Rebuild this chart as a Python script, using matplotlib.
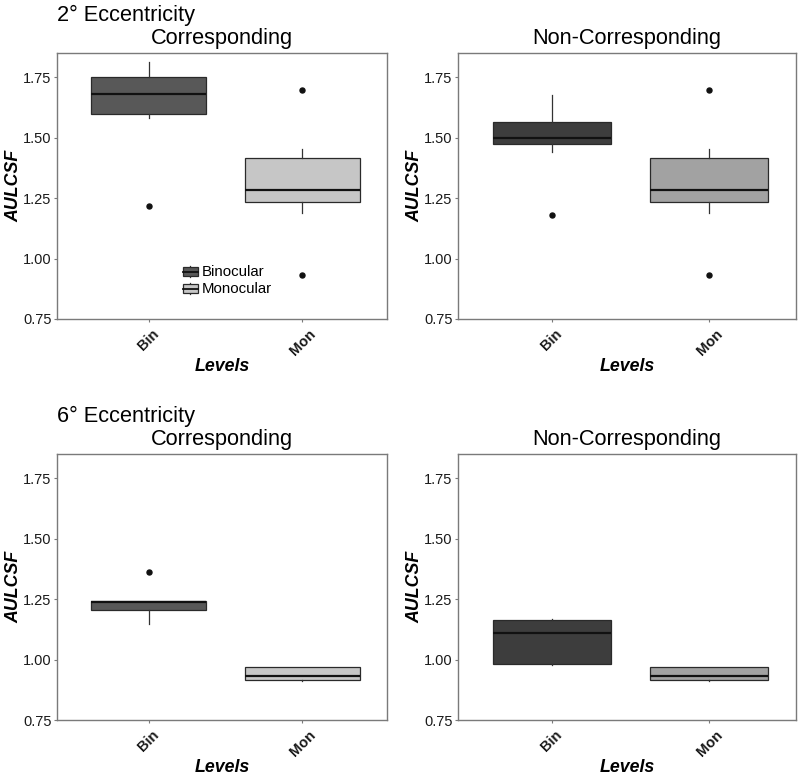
import matplotlib
matplotlib.use("Agg")
import matplotlib.pyplot as plt
from matplotlib.patches import Rectangle
from matplotlib.lines import Line2D
from matplotlib.legend_handler import HandlerBase

plt.rcParams['font.family'] = ['Liberation Sans', 'DejaVu Sans']

# ---------------- data ----------------
levels = ["Bin", "Mon"]
legend_labels = ["Binocular", "Monocular"]
ecc_titles = ["2° Eccentricity", "6° Eccentricity"]
panel_titles = ["Corresponding", "Non-Corresponding"]
yticks = [0.75, 1.00, 1.25, 1.50, 1.75]

# 2° Corresponding
e2c_whislo = [1.583, 1.189]
e2c_q1 = [1.599, 1.233]
e2c_med = [1.681, 1.282]
e2c_q3 = [1.750, 1.417]
e2c_whishi = [1.812, 1.454]
e2c_fliers = [[1.218], [1.699, 0.930]]

# 2° Non-Corresponding
e2n_whislo = [1.439, 1.189]
e2n_q1 = [1.475, 1.233]
e2n_med = [1.498, 1.282]
e2n_q3 = [1.564, 1.417]
e2n_whishi = [1.677, 1.454]
e2n_fliers = [[1.182], [1.699, 0.930]]

# 6° Corresponding
e6c_whislo = [1.145, 0.913]
e6c_q1 = [1.203, 0.917]
e6c_med = [1.238, 0.933]
e6c_q3 = [1.243, 0.969]
e6c_whishi = [1.243, 0.969]
e6c_fliers = [[1.363], []]

# 6° Non-Corresponding
e6n_whislo = [0.976, 0.913]
e6n_q1 = [0.981, 0.917]
e6n_med = [1.108, 0.933]
e6n_q3 = [1.163, 0.969]
e6n_whishi = [1.166, 0.969]
e6n_fliers = [[], []]

corr_colors = ["#585858", "#c6c6c6"]
noncorr_colors = ["#3d3d3d", "#a2a2a2"]

# ---------------- figure ----------------
W, H = 800, 776
fig = plt.figure(figsize=(W / 100, H / 100), dpi=100)


def px_axes(x0, y0, x1, y1):
    return fig.add_axes([x0 / W, 1 - y1 / H, (x1 - x0) / W, (y1 - y0) / H])


axes_px = [
    (57, 53, 387, 319),
    (458, 53, 796, 319),
    (57, 454, 387, 720),
    (458, 454, 796, 720),
]

panel_data = [
    (e2c_whislo, e2c_q1, e2c_med, e2c_q3, e2c_whishi, e2c_fliers, corr_colors, panel_titles[0]),
    (e2n_whislo, e2n_q1, e2n_med, e2n_q3, e2n_whishi, e2n_fliers, noncorr_colors, panel_titles[1]),
    (e6c_whislo, e6c_q1, e6c_med, e6c_q3, e6c_whishi, e6c_fliers, corr_colors, panel_titles[0]),
    (e6n_whislo, e6n_q1, e6n_med, e6n_q3, e6n_whishi, e6n_fliers, noncorr_colors, panel_titles[1]),
]

edge_col = "#2a2a2a"
axes_list = []
for (rect, (wlo, q1, med, q3, whi, fl, cols, title)) in zip(axes_px, panel_data):
    ax = px_axes(*rect)
    axes_list.append(ax)
    stats = []
    for i in range(len(levels)):
        stats.append(dict(whislo=wlo[i], q1=q1[i], med=med[i], q3=q3[i],
                          whishi=whi[i], fliers=fl[i], label=levels[i]))
    bp = ax.bxp(stats, positions=[1, 2], widths=0.75, patch_artist=True,
                showcaps=False,
                boxprops=dict(edgecolor=edge_col, linewidth=0.9),
                medianprops=dict(color="#111111", linewidth=1.6, solid_capstyle='butt'),
                whiskerprops=dict(color="#333333", linewidth=0.9),
                flierprops=dict(marker='o', markerfacecolor='#111111',
                                markeredgecolor='#111111', markersize=3.6))
    for patch, c in zip(bp['boxes'], cols):
        patch.set_facecolor(c)
    ax.set_xlim(0.405, 2.55)
    ax.set_ylim(0.75, 1.85)
    ax.set_yticks(yticks)
    ax.set_yticklabels([f"{v:.2f}" for v in yticks])
    ax.set_xticks([1, 2])
    ax.set_xticklabels(levels, rotation=45, ha='center', va='top',
                       fontweight='bold', fontsize=10)
    ax.tick_params(axis='both', colors='#7a7a7a', length=2.5, width=0.8,
                   labelcolor='#1a1a1a', labelsize=10.5)
    ax.tick_params(axis='y', pad=1.5)
    ax.tick_params(axis='x', pad=3.0)
    for sp in ax.spines.values():
        sp.set_color('#7a7a7a')
        sp.set_linewidth(1.0)
    ax.set_ylabel("AULCSF", fontsize=12.8, fontweight='bold', fontstyle='italic',
                  labelpad=0.5)
    ax.set_xlabel("Levels", fontsize=12.8, fontweight='bold', fontstyle='italic',
                  labelpad=0)
    ax.set_title(title, fontsize=15.7, pad=6.5)

# eccentricity headers
fig.text(57 / W, 1 - 21 / H, ecc_titles[0], fontsize=15.7, ha='left', va='baseline')
fig.text(57 / W, 1 - 422 / H, ecc_titles[1], fontsize=15.7, ha='left', va='baseline')


# legend with boxplot-style keys
class BoxKeyHandler(HandlerBase):
    def __init__(self, color):
        super().__init__()
        self.color = color

    def create_artists(self, legend, orig_handle, xdescent, ydescent,
                       width, height, fontsize, trans):
        cx = -xdescent + width / 2
        bot = -ydescent + height * 0.1
        top = -ydescent + height * 0.85
        vline = Line2D([cx, cx], [-ydescent - height * 0.05, -ydescent + height * 1.0],
                       color='#333333', lw=0.9, transform=trans)
        rect = Rectangle((-xdescent, bot), width, top - bot, facecolor=self.color,
                         edgecolor=edge_col, lw=0.9, transform=trans)
        mid = (bot + top) / 2
        med = Line2D([-xdescent, -xdescent + width], [mid, mid], color='#111111',
                     lw=1.3, transform=trans)
        return [vline, rect, med]


h1 = Rectangle((0, 0), 1, 1)
h2 = Rectangle((0, 0), 1, 1)
axes_list[0].legend([h1, h2], legend_labels,
                    handler_map={h1: BoxKeyHandler(corr_colors[0]),
                                 h2: BoxKeyHandler(corr_colors[1])},
                    loc='center left', bbox_to_anchor=(0.358, 0.143),
                    frameon=False, borderpad=0, handlelength=1.0,
                    handleheight=0.75, handletextpad=0.25, labelspacing=0.2,
                    fontsize=10.8)

fig.savefig("out.png", dpi=100)
